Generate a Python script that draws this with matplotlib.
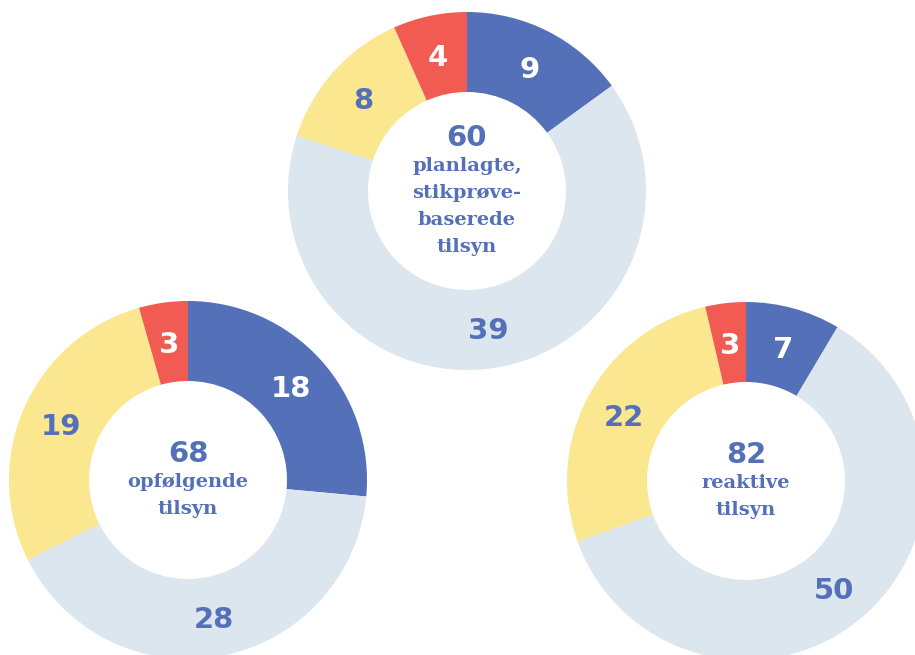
import numpy as np
import matplotlib
import matplotlib.pyplot as plt

matplotlib.use("Agg")

# order: blue, light, yellow, red (clockwise from 12 o'clock)
COLORS = ["#5470b8", "#dce6ef", "#fbe78f", "#f15b52"]
LABEL_COLORS = ["white", "#5470b8", "#5470b8", "white"]
TEXT_BLUE = "#5470b8"

planlagte = [9, 39, 8, 4]
opfolgende = [18, 28, 19, 3]
reaktive = [7, 50, 22, 3]

titles = [
    ["planlagte,", "stikprøve-", "baserede", "tilsyn"],
    ["opfølgende", "tilsyn"],
    ["reaktive", "tilsyn"],
]

# donut placement in pixel coordinates (x, y from top)
centers = [(467, 191), (188, 480), (746, 481)]
R_OUT = 179
R_IN = 99

W, H = 915, 655
fig = plt.figure(figsize=(W / 100, H / 100), dpi=100)
ax = fig.add_axes([0, 0, 1, 1])

num_font = "DejaVu Sans"
lab_font = "DejaVu Serif"

for values, title, (cx, cy) in zip([planlagte, opfolgende, reaktive], titles, centers):
    cy = H - cy
    ax.pie(values, colors=COLORS, startangle=90, counterclock=False,
           center=(cx, cy), radius=R_OUT,
           wedgeprops=dict(width=R_OUT - R_IN, linewidth=0),
           frame=True)
    total = sum(values)
    r_mid = (R_OUT + R_IN) / 2
    cum = 0
    for v, lc in zip(values, LABEL_COLORS):
        mid = (cum + v / 2) / total * 2 * np.pi
        cum += v
        lx = cx + r_mid * np.sin(mid)
        ly = cy + r_mid * np.cos(mid)
        ax.text(lx, ly, str(v), color=lc, fontsize=21, fontweight="bold",
                family=num_font, ha="center", va="center_baseline")
    # centre block: total + title lines
    n = len(title)
    span = 31 + (n - 1) * 27
    top = cy + span / 2
    ax.text(cx, top - 11, str(total), color=TEXT_BLUE, fontsize=21,
            fontweight="bold", family=num_font, ha="center", va="baseline")
    for k, line in enumerate(title):
        yc = top - 31 - k * 27
        ax.text(cx, yc - 5, line, color=TEXT_BLUE, fontsize=14,
                fontweight="bold", family=lab_font, ha="center", va="baseline")

ax.set_xlim(0, W)
ax.set_ylim(0, H)
ax.set_aspect("equal")
ax.axis("off")
fig.savefig("out.png", dpi=100)
